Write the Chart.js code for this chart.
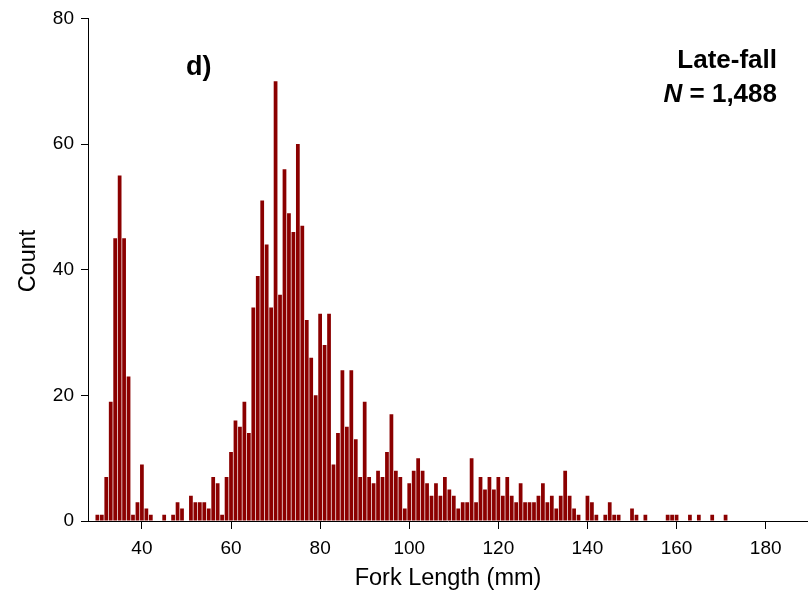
<!DOCTYPE html>
<html>
<head>
<meta charset="utf-8">
<script src="https://cdn.jsdelivr.net/npm/chart.js@4.4.1/dist/chart.umd.min.js"></script>
<style>
  html, body { margin: 0; padding: 0; background: #fff; }
  #wrap { width: 808px; height: 596px; position: relative; }
</style>
</head>
<body>
<div id="wrap"><canvas id="chart"></canvas></div>
<script>
  // fork length bins (mm) that have fish, and the count in each
  const forkLength = [
    30, 31, 32, 33, 34, 35, 36, 37, 38, 39, 40, 41, 42, 45, 47, 48, 49,
    51, 52, 53, 54, 55, 56, 57, 58, 59, 60,
    61, 62, 63, 64, 65, 66, 67, 68, 69, 70,
    71, 72, 73, 74, 75, 76, 77, 78, 79, 80,
    81, 82, 83, 84, 85, 86, 87, 88, 89, 90,
    91, 92, 93, 94, 95, 96, 97, 98, 99, 100,
    101, 102, 103, 104, 105, 106, 107, 108, 109, 110,
    111, 112, 113, 114, 115, 116, 117, 118, 119, 120,
    121, 122, 123, 124, 125, 126, 127, 128, 129, 130,
    131, 132, 133, 134, 135, 136, 137, 138, 140,
    141, 142, 144, 145, 146, 147, 150, 151, 153,
    158, 159, 160, 163, 165, 168, 171
  ];
  const counts = [
    1, 1, 7, 19, 45, 55, 45, 23, 1, 3, 9, 2, 1, 1, 1, 3, 2,
    4, 3, 3, 3, 2, 7, 6, 1, 7, 11,
    16, 15, 19, 14, 34, 39, 51, 44, 34, 70,
    36, 56, 49, 46, 60, 47, 32, 26, 20, 33,
    28, 33, 9, 14, 24, 15, 24, 13, 7, 19,
    7, 6, 8, 7, 11, 17, 8, 7, 2, 6,
    8, 10, 8, 6, 4, 6, 4, 7, 5, 4,
    2, 3, 3, 10, 3, 7, 5, 7, 5, 7,
    4, 7, 4, 3, 6, 3, 3, 3, 4, 6,
    3, 4, 2, 4, 8, 4, 2, 1, 4,
    3, 1, 1, 3, 1, 1, 2, 1, 1,
    1, 1, 1, 1, 1, 1, 1
  ];
  const xTicks = [40, 60, 80, 100, 120, 140, 160, 180];
  const yTicks = [0, 20, 40, 60, 80];

  const FONT = "'Liberation Sans', Arial, sans-serif";

  // panel letter, run name and sample size
  const notes = {
    id: "notes",
    afterDraw(chart) {
      const ctx = chart.ctx;
      ctx.save();
      ctx.fillStyle = "#000";
      ctx.textBaseline = "middle";

      ctx.font = "bold 27px " + FONT;
      ctx.textAlign = "left";
      ctx.fillText("d)", 186, 68);

      ctx.font = "bold 26px " + FONT;
      ctx.textAlign = "right";
      ctx.fillText("Late-fall", 777, 61);

      const rest = " = 1,488";
      ctx.fillText(rest, 777, 95);
      const w = ctx.measureText(rest).width;
      ctx.font = "italic bold 26px " + FONT;
      ctx.fillText("N", 777 - w, 95);

      ctx.font = "23.5px " + FONT;
      ctx.textAlign = "center";
      ctx.translate(29, 261);
      ctx.rotate(-Math.PI / 2);
      ctx.fillText("Count", 0, 0);
      ctx.restore();
    },
  };

  new Chart(document.getElementById("chart"), {
    type: "bar",
    data: {
      datasets: [
        {
          data: forkLength.map((x, i) => ({ x: x, y: counts[i] })),
          backgroundColor: "#8b0000",
          borderWidth: 0,
          categoryPercentage: 1,
          barPercentage: 0.84,
        },
      ],
    },
    options: {
      responsive: true,
      maintainAspectRatio: false,
      animation: false,
      layout: { padding: { top: 17, right: 0, bottom: 0, left: 0 } },
      plugins: {
        legend: { display: false },
        tooltip: { enabled: false },
      },
      scales: {
        x: {
          type: "linear",
          offset: false,
          min: 27.9,
          max: 189.5,
          afterBuildTicks: (scale) => {
            scale.ticks = xTicks.map((v) => ({ value: v }));
          },
          afterFit: (scale) => {
            scale.height = 75;
          },
          grid: {
            display: true,
            offset: false,
            drawOnChartArea: false,
            drawTicks: true,
            tickLength: 8,
            color: "#000",
          },
          border: { display: true, color: "#000", width: 1 },
          ticks: {
            color: "#000",
            padding: 8,
            maxRotation: 0,
            font: { family: FONT, size: 19 },
          },
          title: {
            display: true,
            text: "Fork Length (mm)",
            color: "#000",
            padding: { top: 0, bottom: 3 },
            font: { family: FONT, size: 23.5 },
          },
        },
        y: {
          min: 0,
          max: 80,
          afterBuildTicks: (scale) => {
            scale.ticks = yTicks.map((v) => ({ value: v }));
          },
          afterFit: (scale) => {
            scale.width = 88;
          },
          grid: {
            display: true,
            drawOnChartArea: false,
            drawTicks: true,
            tickLength: 7,
            color: "#000",
          },
          border: { display: true, color: "#000", width: 1 },
          ticks: {
            color: "#000",
            padding: 7,
            font: { family: FONT, size: 19 },
          },
        },
      },
    },
    plugins: [notes],
  });
</script>
</body>
</html>
